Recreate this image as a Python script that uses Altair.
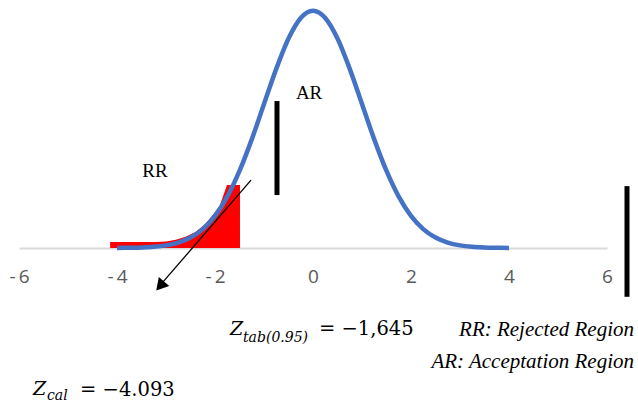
import altair as alt
import pandas as pd

# Normal curve
curve_x = [-4.0, -3.75, -3.5, -3.25, -3.0, -2.75, -2.5, -2.25, -2.0, -1.75, -1.5, -1.25, -1.0, -0.75, -0.5, -0.25,
           0.0, 0.25, 0.5, 0.75, 1.0, 1.25, 1.5, 1.75, 2.0, 2.25, 2.5, 2.75, 3.0, 3.25, 3.5, 3.75, 4.0]
curve_y = [0.0001, 0.0004, 0.0009, 0.0020, 0.0044, 0.0091, 0.0175, 0.0317, 0.0540, 0.0863, 0.1295, 0.1826,
           0.2420, 0.3011, 0.3521, 0.3867, 0.3989, 0.3867, 0.3521, 0.3011, 0.2420, 0.1826, 0.1295, 0.0863,
           0.0540, 0.0317, 0.0175, 0.0091, 0.0044, 0.0020, 0.0009, 0.0004, 0.0001]

# Rejection region (red)
red_x = [-4.14, -3.2, -3.0, -2.8, -2.6, -2.4, -2.2, -2.0, -1.9, -1.755, -1.49]
red_y = [0.010, 0.010, 0.011, 0.014, 0.019, 0.027, 0.040, 0.060, 0.072, 0.106, 0.106]

x_ticks = [-6, -4, -2, 0, 2, 4, 6]

# Black marker bars
bar_x = [-0.735, 6.408]
bar_y1 = [0.089, 0.104]
bar_y2 = [0.247, -0.082]

# Arrow
arrow_x = [-1.265]
arrow_y = [0.114]
arrow_x2 = [-3.06]
arrow_y2 = [-0.057]
head_x = [-3.12]
head_y = [-0.064]

curve = pd.DataFrame({"x": curve_x, "y": curve_y})
red = pd.DataFrame({"x": red_x, "y": red_y})
bars = pd.DataFrame({"x": bar_x, "y": bar_y1, "y2": bar_y2})
arrow = pd.DataFrame({"x": arrow_x, "y": arrow_y, "x2": arrow_x2, "y2": arrow_y2})
head = pd.DataFrame({"x": head_x, "y": head_y})

SERIF = "'Liberation Serif', 'Times New Roman', serif"
MATH = "'DejaVu Serif', serif"
SANS = "'Open Sans', 'Noto Sans', sans-serif"

xs = alt.Scale(domain=[-6, 6], nice=False, zero=False)
ys = alt.Scale(domain=[0, 0.4], nice=False, zero=False)
xaxis = alt.Axis(values=x_ticks, title=None, grid=False, ticks=False, labelFlush=False,
                 domainColor="#D9D9D9", domainWidth=2, labelColor="#595959",
                 labelFont=SANS, labelFontSize=19, labelPadding=19,
                 labelExpr="datum.value < 0 ? '-\u2009' + abs(datum.value) : '' + datum.value")

def X(f="x"):
    return alt.X(f"{f}:Q", scale=xs, axis=xaxis)

def Y(f="y"):
    return alt.Y(f"{f}:Q", scale=ys, axis=None)

red_area = alt.Chart(red).mark_area(color="#FF0000", opacity=1).encode(x=X(), y=Y())
line = alt.Chart(curve).mark_line(color="#4472C4", strokeWidth=4.5, interpolate="monotone").encode(x=X(), y=Y())
bar_rules = alt.Chart(bars).mark_rule(color="black", strokeWidth=5).encode(x=X(), y=Y(), y2="y2:Q")
arrow_line = alt.Chart(arrow).mark_rule(color="black", strokeWidth=1.3).encode(x=X(), y=Y(), x2="x2:Q", y2="y2:Q")
arrow_head = alt.Chart(head).mark_point(shape="triangle-up", filled=True, color="black", opacity=1,
                                        size=190, angle=221).encode(x=X(), y=Y())

# Text annotations
lbl = pd.DataFrame({"t": ["RR", "AR"], "x": [-3.224, -0.08], "y": [0.119, 0.250]})
labels = alt.Chart(lbl).mark_text(font=SERIF, fontSize=19, color="black",
                                  baseline="alphabetic", align="center").encode(x=X(), y=Y(), text="t:N")

leg = pd.DataFrame({"t": ["RR: Rejected Region", "AR: Acceptation Region"], "x": [6.551, 6.551], "y": [-0.148, -0.202]})
legend = alt.Chart(leg).mark_text(font=SERIF, fontSize=21, fontStyle="italic", color="black",
                                  baseline="alphabetic", align="right").encode(x=X(), y=Y(), text="t:N")

zz = pd.DataFrame({"t": ["Z", "Z"], "x": [-1.694, -5.714], "y": [-0.146, -0.247]})
zmain = alt.Chart(zz).mark_text(font=MATH, fontSize=19, fontStyle="italic", color="black",
                                baseline="alphabetic", align="left").encode(x=X(), y=Y(), text="t:N")

sub = pd.DataFrame({"t": ["tab(0.95)", "cal"], "x": [-1.429, -5.429], "y": [-0.158, -0.256]})
zsub = alt.Chart(sub).mark_text(font=MATH, fontSize=14, fontStyle="italic", color="black",
                                baseline="alphabetic", align="left").encode(x=X(), y=Y(), text="t:N")

eq = pd.DataFrame({"t": ["=  \u22121,645", "= \u22124.093"], "x": [0.122, -4.755], "y": [-0.146, -0.249]})
zeq = alt.Chart(eq).mark_text(font=MATH, fontSize=19.5, color="black",
                              baseline="alphabetic", align="left").encode(x=X(), y=Y(), text="t:N")

chart = alt.layer(red_area, line, bar_rules, arrow_line, arrow_head, labels, legend, zmain, zsub, zeq).properties(
    width=588, height=238,
    padding={"left": 19, "top": 10, "right": 31, "bottom": 156},
    autosize=alt.AutoSizeParams(type="none"),
    background="white",
).configure_view(stroke=None)

chart.save("out.html", embed_options={"renderer": "svg", "actions": False})
